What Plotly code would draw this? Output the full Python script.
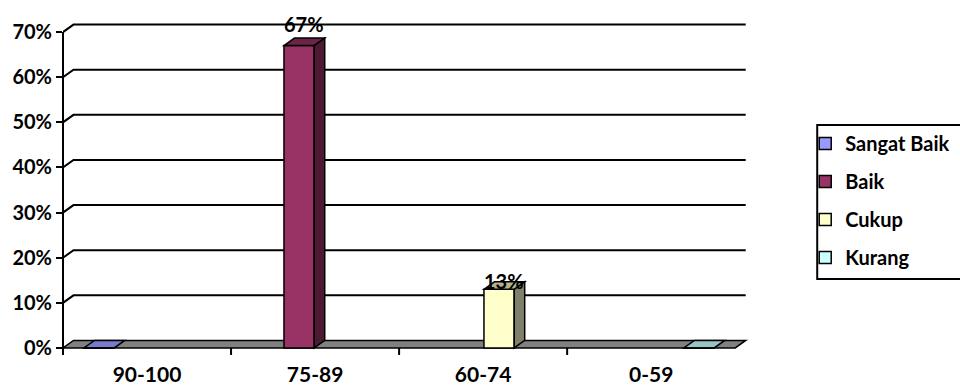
import plotly.graph_objects as go

# ---- data -------------------------------------------------------------
categories = ["90-100", "75-89", "60-74", "0-59"]
series_names = ["Sangat Baik", "Baik", "Cukup", "Kurang"]
sangat_baik = [0, None, None, None]
baik = [None, 67, None, None]
cukup = [None, None, 13, None]
kurang = [None, None, None, 0]
y_tick_values = [0, 10, 20, 30, 40, 50, 60, 70]
y_tick_labels = ["0%", "10%", "20%", "30%", "40%", "50%", "60%", "70%"]

series_values = [sangat_baik, baik, cukup, kurang]

# ---- style ------------------------------------------------------------
front_colors = ["#9999FF", "#993366", "#FFFFCC", "#CCFFFF"]
top_colors = ["#7A7ACC", "#6B2447", "#B3B38F", "#99C4C4"]
side_colors = ["#4D4D80", "#4D1A33", "#80806A", "#668080"]
label_lift = [0, 14, 1, 0]          # px above the back edge of a bar top
FONT = "Lato"
FS = 20
W, H = 960, 385

# plot area geometry (pixels)
L_PX, R_PX = 63, 751.8
T_PX, B_PX = 5, 357
X_RANGE = [-0.5, 3.6]
Y_RANGE = [-2, 76]
px_per_x = (R_PX - L_PX) / (X_RANGE[1] - X_RANGE[0])
px_per_y = (B_PX - T_PX) / (Y_RANGE[1] - Y_RANGE[0])

# 3-D depth of the back wall
DX = 10.5 / px_per_x
DY = 7.5 / px_per_y

# bar slots inside each category
STEP = 0.19
BAR_W = 0.18


def slot_offset(i):
    return -2 * STEP + i * STEP + (STEP - BAR_W) / 2


def poly(pts):
    return "M " + " L ".join(f"{x},{y}" for x, y in pts) + " Z"


def px_to_paper_x(px):
    return (px - L_PX) / (R_PX - L_PX)


def px_to_paper_y(py):
    return (B_PX - py) / (B_PX - T_PX)


def bold(size):
    return dict(family=FONT, size=size, color="black", weight="bold")


fig = go.Figure()
shapes = []
annotations = []

x_lo = X_RANGE[0]
x_hi = len(categories) - 0.5

# back-wall grid lines with their slanted joins to the value axis
for v in y_tick_values[1:]:
    shapes.append(dict(
        type="path", xref="x", yref="y", layer="below",
        path=f"M {x_lo},{v} L {x_lo + DX},{v + DY} L {x_hi + DX},{v + DY}",
        line=dict(color="black", width=2),
    ))

# floor
shapes.append(dict(
    type="path", xref="x", yref="y", layer="below",
    path=poly([(x_lo, 0), (x_lo + DX, DY), (x_hi + DX, DY), (x_hi, 0)]),
    fillcolor="#808080", line=dict(color="black", width=1.5),
))

# bars: front faces as traces, top and side faces as shapes
for i, (name, vals) in enumerate(zip(series_names, series_values)):
    off = slot_offset(i)
    fig.add_trace(go.Bar(
        name=name, x=list(range(len(categories))), y=vals,
        width=BAR_W, offset=off,
        marker=dict(color=front_colors[i], line=dict(color="black", width=1.5)),
        legendgroup=f"g{i}", showlegend=True,
    ))
    for c, v in enumerate(vals):
        if v is None:
            continue
        x0 = c + off
        x1 = x0 + BAR_W
        top = [(x0, v), (x0 + DX, v + DY), (x1 + DX, v + DY), (x1, v)]
        shapes.append(dict(
            type="path", xref="x", yref="y",
            layer="below" if v == 0 else "above",
            path=poly(top), fillcolor=top_colors[i],
            line=dict(color="black", width=1.5),
        ))
        if v > 0:
            side = [(x1, 0), (x1 + DX, DY), (x1 + DX, v + DY), (x1, v)]
            shapes.append(dict(
                type="path", xref="x", yref="y", layer="above",
                path=poly(side), fillcolor=side_colors[i],
                line=dict(color="black", width=1.5),
            ))
            annotations.append(dict(
                x=x0 + BAR_W / 2 + DX / 2, y=v + DY, xref="x", yref="y",
                text=f"{v}%", showarrow=False, yanchor="middle",
                yshift=label_lift[i], font=bold(FS),
            ))

# value axis line and category tick marks
tick_down = 7 / px_per_y
shapes.append(dict(
    type="line", xref="paper", yref="y", x0=0, x1=0,
    y0=-tick_down, y1=y_tick_values[-1],
    line=dict(color="black", width=2),
))
for b in range(1, len(categories)):
    shapes.append(dict(
        type="line", xref="x", yref="y", x0=b - 0.5, x1=b - 0.5,
        y0=0, y1=-tick_down, line=dict(color="black", width=2),
    ))

# legend frame
shapes.append(dict(
    type="rect", xref="paper", yref="paper",
    x0=px_to_paper_x(817), x1=px_to_paper_x(975),
    y0=px_to_paper_y(279), y1=px_to_paper_y(125),
    line=dict(color="black", width=2), fillcolor="rgba(0,0,0,0)",
))

fig.update_layout(
    width=W, height=H,
    margin=dict(l=L_PX, r=W - R_PX, t=T_PX, b=H - B_PX, autoexpand=False),
    paper_bgcolor="white", plot_bgcolor="white",
    barmode="overlay",
    shapes=shapes, annotations=annotations,
    font=bold(FS),
    xaxis=dict(
        range=X_RANGE, tickvals=list(range(len(categories))), ticktext=categories,
        showgrid=False, zeroline=False, showline=False, ticks="",
        ticklabelstandoff=3, tickfont=bold(21),
    ),
    yaxis=dict(
        range=Y_RANGE, tickvals=y_tick_values, ticktext=y_tick_labels,
        showgrid=False, zeroline=False, showline=False,
        ticks="outside", ticklen=6, tickwidth=2, tickcolor="black",
        tickfont=bold(FS),
    ),
    legend=dict(
        x=px_to_paper_x(805), y=px_to_paper_y(124), xanchor="left", yanchor="top",
        bgcolor="rgba(0,0,0,0)", borderwidth=0,
        traceorder="grouped", tracegroupgap=9,
        font=bold(FS),
    ),
    showlegend=True,
)

fig.write_html("out.html")
